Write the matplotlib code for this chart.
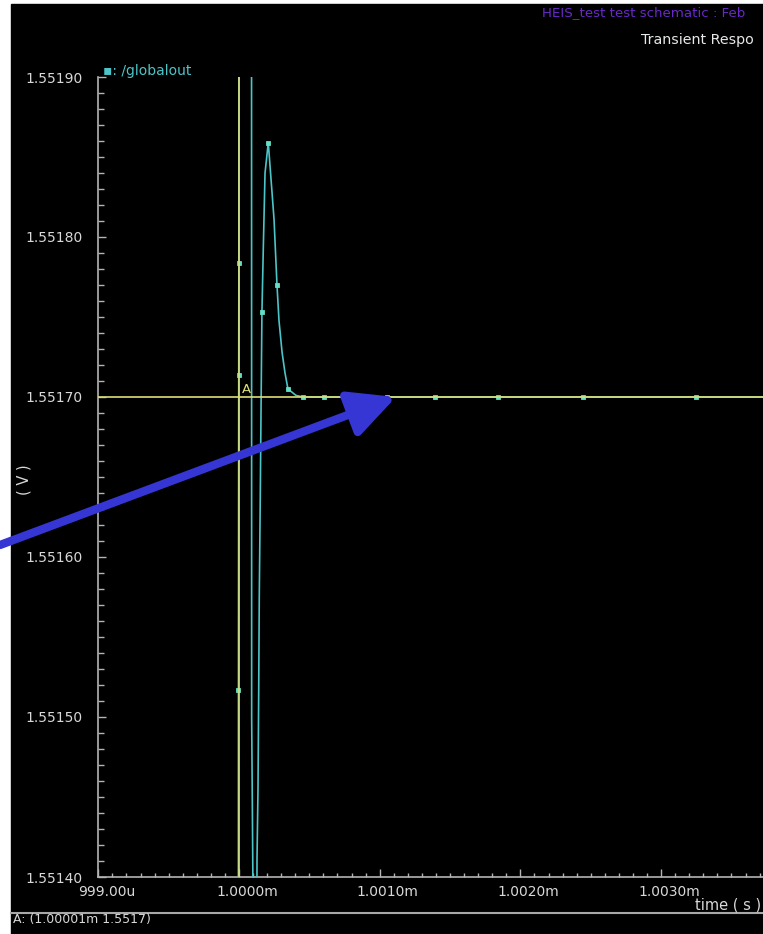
import numpy as np
import matplotlib
matplotlib.use('Agg')
import matplotlib.pyplot as plt
from matplotlib.patches import Rectangle, FancyArrowPatch
from matplotlib.lines import Line2D
from matplotlib.transforms import ScaledTranslation

# waveform /globalout, time in us, value in V
wave_t = [999.00, 999.990, 999.996, 999.998, 999.999, 1000.002, 1000.088, 1000.090,
          1000.0995, 1000.112, 1000.128, 1000.135, 1000.140, 1000.144, 1000.151, 1000.156,
          1000.163, 1000.173, 1000.185, 1000.208, 1000.232, 1000.249, 1000.270, 1000.284,
          1000.306, 1000.327, 1000.348, 1000.405, 1000.455, 1000.604, 1000.796, 1001.052,
          1001.393, 1001.841, 1002.445, 1003.248, 1003.80]
wave_v = [1.55000, 1.55000, 1.551517, 1.551714, 1.551784, 1.55250, 1.55250, 1.551500,
          1.551390, 1.55080, 1.551411, 1.551455, 1.551515, 1.551574, 1.551636, 1.551686,
          1.551753, 1.551794, 1.551840, 1.551859, 1.551831, 1.551811, 1.551770, 1.551748,
          1.551728, 1.551715, 1.551705, 1.551701, 1.551700, 1.551700, 1.551700, 1.551700,
          1.551700, 1.551700, 1.551700, 1.551700, 1.551700]
# points carrying a marker
mark_t = [999.996, 999.998, 999.999, 1000.163, 1000.208, 1000.270, 1000.348,
          1000.455, 1000.604, 1000.796, 1001.052, 1001.393, 1001.841, 1002.445, 1003.248]
mark_v = [1.551517, 1.551714, 1.551784, 1.551753, 1.551859, 1.551770, 1.551705,
          1.551700, 1.551700, 1.551700, 1.551700, 1.551700, 1.551700, 1.551700, 1.551700]

# cursor A
cur_t = 1000.0
cur_v = 1.5517

x_ticks = [999.0, 1000.0, 1001.0, 1002.0, 1003.0]
x_labels = ['999.00u', '1.0000m', '1.0010m', '1.0020m', '1.0030m']
y_ticks = [1.5514, 1.5515, 1.5516, 1.5517, 1.5518, 1.5519]
y_labels = ['1.55140', '1.55150', '1.55160', '1.55170', '1.55180', '1.55190']

W, H = 763, 934
def fx(px):
    return px / W
def fy(py):
    return 1 - py / H

fig = plt.figure(figsize=(W / 100, H / 100), dpi=100, facecolor='white')
fig.patches.append(Rectangle((fx(11), 0), 1 - fx(11), fy(4), transform=fig.transFigure,
                             color='black', zorder=-10))

ax = fig.add_axes([fx(98.3), fy(877), 1 - fx(98.3), (877 - 77) / H])
ax.set_facecolor('black')
ax.set_zorder(1)

gray = '#b4b4b4'
for s in ['top', 'right']:
    ax.spines[s].set_visible(False)
for s in ['left', 'bottom']:
    ax.spines[s].set_color(gray)
    ax.spines[s].set_linewidth(1.2)

ax.set_xticks(x_ticks)
ax.set_xticklabels(x_labels)
ax.set_xticks(np.arange(999.0, 1003.75, 0.1), minor=True)
ax.set_yticks(y_ticks)
ax.set_yticklabels(y_labels)
ax.set_yticks(np.linspace(1.5514, 1.5519, 51), minor=True)
ax.set_xlim(999.0, 999.0 + (763 - 98.3) / 140.7)
ax.set_ylim(1.5514, 1.5519)
ax.tick_params(which='both', direction='in', color=gray, width=1, labelcolor='#d8d8d8',
               labelsize=10)
ax.tick_params(axis='x', which='major', length=6, pad=6)
ax.tick_params(axis='x', which='minor', length=3)
ax.tick_params(axis='y', which='major', length=6, pad=11.5)
ax.tick_params(axis='y', which='minor', length=4)
for lab in ax.get_xticklabels():
    lab.set_transform(lab.get_transform() + ScaledTranslation(0.08, 0, fig.dpi_scale_trans))

# waveform
ax.plot(wave_t, wave_v, color='#4cc4c8', lw=1.2, zorder=3)
ax.plot(mark_t, mark_v, ls='none', marker='s', markersize=3.4, color='#62e0c4',
        markeredgewidth=0.6, zorder=4)

# cursor lines
ax.axvline(cur_t, color='#dede78', lw=1.2, zorder=5)
ax.axhline(cur_v, color='#dede78', lw=1.2, zorder=5)
ax.annotate('A', xy=(cur_t, cur_v), xytext=(2, 1), textcoords='offset points',
            color='#dede78', fontsize=9.5, ha='left', va='bottom')

# texts
fig.text(fx(103), fy(71), '\u25aa: /globalout', color='#4cc4c8', fontsize=10, va='center',
         zorder=5)
fig.text(fx(542), fy(12.5), 'HEIS_test test schematic : Feb', color='#6a28c8',
         fontsize=9.6, va='center')
fig.text(fx(641), fy(40), 'Transient Respo', color='#e8e8e8', fontsize=10.3,
         va='center')
fig.text(fx(24), fy(480), '( V )', color='#d8d8d8', fontsize=10.5, rotation=90,
         ha='center', va='center')
fig.text(fx(695), fy(905), 'time ( s )', color='#d8d8d8', fontsize=10.5, va='center',
         zorder=5)
fig.add_artist(Line2D([fx(11), 1], [fy(912.5), fy(912.5)], transform=fig.transFigure,
                      color='#a8a8a8', lw=1.5, zorder=5))
fig.text(fx(13), fy(920), 'A: (1.00001m 1.5517)', color='#d8d8d8', fontsize=9,
         va='center', zorder=5)

# blue arrow annotation
arr = FancyArrowPatch((fx(0), fy(545)), (fx(396), fy(397)), transform=fig.transFigure,
                      arrowstyle='-|>,head_length=0.9,head_width=0.45', mutation_scale=31,
                      color='#3636d4', lw=6, shrinkA=0, shrinkB=0, zorder=10)
fig.add_artist(arr)

fig.savefig('out.png', dpi=100, facecolor='white')
